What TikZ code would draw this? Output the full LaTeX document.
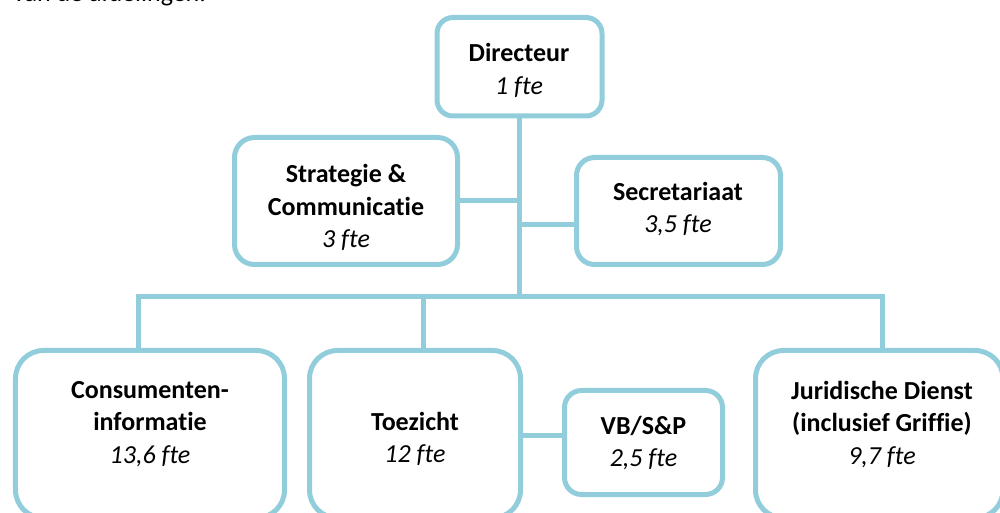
\documentclass[tikz,border=0pt]{standalone}
\usepackage{fontspec}
\setmainfont{Carlito}[Ligatures={NoCommon}]
\definecolor{boxblue}{HTML}{92CDDC}
\newcommand{\fl}{\rule{0pt}{22bp}}
\begin{document}
\begin{tikzpicture}[x=1bp,y=-1bp,
  box/.style={draw=boxblue,line width=5bp,rectangle,inner sep=0pt,fill=white},
  lbl/.style={anchor=north,inner sep=0pt,align=center,font=\fontsize{26bp}{32.5bp}\selectfont},
  link/.style={draw=boxblue,line width=5bp}]
\useasboundingbox (0,0) rectangle (1000,513);
\clip (0,0) rectangle (1000,513);

% intro text (cut off at the top, as in the reference)
\node[anchor=base west,inner sep=0pt,font=\fontsize{26bp}{32bp}\selectfont] (intro) at (13,2) {van de afdelingen.};

% boxes
\node[box,minimum width=165bp,minimum height=98.5bp,rounded corners=16bp] (dir) at (519.5,66.75) {};
\node[box,minimum width=223bp,minimum height=127bp,rounded corners=20bp] (strat) at (346,201) {};
\node[box,minimum width=204bp,minimum height=107bp,rounded corners=18bp] (sec) at (678.5,211) {};
\node[box,minimum width=269bp,minimum height=167.5bp,rounded corners=28bp] (cons) at (150,434.25) {};
\node[box,minimum width=211bp,minimum height=167.5bp,rounded corners=28bp] (toez) at (415,434.25) {};
\node[box,minimum width=158bp,minimum height=104bp,rounded corners=17bp] (vb) at (643.5,442.5) {};
\node[box,minimum width=247.5bp,minimum height=167.5bp,rounded corners=28bp] (jur) at (879.25,434.25) {};

% connector points
\coordinate (busL) at (138,297);
\coordinate (busT) at (423,297);
\coordinate (busR) at (882,297);
\coordinate (secC) at ([yshift=-14bp]sec.west);
\coordinate (vbC) at ([yshift=7.5bp]vb.west);

% connectors
\draw[link] (dir.south) -- (dir.south |- busL);
\draw[link] (strat.east) -- (strat.east -| dir.south);
\draw[link] (secC) -- (secC -| dir.south);
\draw[link] (busL |- cons.north) -- (busL) -- (busR) -- (busR |- jur.north);
\draw[link] (busT) -- (busT |- toez.north);
\draw[link] (vbC) -- (vbC -| toez.east);

% labels
\node[lbl] (dirT) at (519,39.7) {\fl\textbf{Directeur}\\\textit{1 fte}};
\node[lbl] (stratT) at (346,160.7) {\fl\textbf{Strategie \&}\\\textbf{Communicatie}\\\textit{3 fte}};
\node[lbl] (secT) at (678,178) {\fl\textbf{Secretariaat}\\\textit{3,5 fte}};
\node[lbl] (consT) at (150,376) {\fl\textbf{Consumenten-}\\\textbf{informatie}\\\textit{13,6 fte}};
\node[lbl] (toezT) at (415,408) {\fl\textbf{Toezicht}\\\textit{12 fte}};
\node[lbl] (vbT) at (643.5,412) {\fl\textbf{VB/S\&P}\\\textit{2,5 fte}};
\node[lbl] (jurT) at (882,377) {\fl\textbf{Juridische Dienst}\\\textbf{(inclusief Griffie)}\\\textit{9,7 fte}};
\end{tikzpicture}
\end{document}
